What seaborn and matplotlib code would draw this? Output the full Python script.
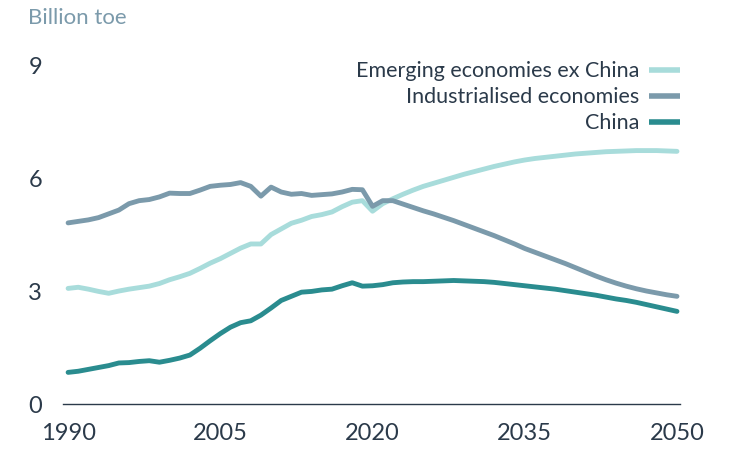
import numpy as np
import pandas as pd
import matplotlib
matplotlib.use("Agg")
import matplotlib.pyplot as plt
import seaborn as sns

# ---------------------------------------------------------------------------
# Data (billion toe)
# ---------------------------------------------------------------------------

years = list(range(1990, 2051))

emerging_ex_china = [
    3.07, 3.10, 3.05, 2.99, 2.94, 3.00, 3.05, 3.09, 3.13, 3.20,
    3.30, 3.38, 3.47, 3.60, 3.74, 3.86, 4.00, 4.14, 4.25, 4.25,
    4.50, 4.65, 4.80, 4.88, 4.98, 5.03, 5.10, 5.24, 5.36, 5.40,
    5.12, 5.32, 5.45, 5.57, 5.68, 5.78, 5.86, 5.94, 6.02, 6.10,
    6.17, 6.24, 6.31, 6.37, 6.43, 6.48, 6.52, 6.55, 6.58, 6.61,
    6.64, 6.66, 6.68, 6.70, 6.71, 6.72, 6.73, 6.73, 6.73, 6.72,
    6.71,
]

industrialised = [
    4.81, 4.85, 4.89, 4.95, 5.05, 5.15, 5.32, 5.40, 5.43, 5.50,
    5.60, 5.59, 5.59, 5.68, 5.78, 5.81, 5.83, 5.88, 5.78, 5.52,
    5.76, 5.63, 5.57, 5.59, 5.54, 5.56, 5.58, 5.63, 5.70, 5.69,
    5.25, 5.40, 5.40, 5.31, 5.22, 5.13, 5.05, 4.96, 4.87, 4.77,
    4.67, 4.57, 4.47, 4.36, 4.25, 4.13, 4.03, 3.93, 3.83, 3.73,
    3.62, 3.51, 3.40, 3.30, 3.21, 3.13, 3.06, 3.00, 2.95, 2.90,
    2.86,
]

china = [
    0.84, 0.87, 0.92, 0.97, 1.02, 1.09, 1.10, 1.13, 1.15, 1.11,
    1.16, 1.22, 1.30, 1.48, 1.68, 1.87, 2.04, 2.16, 2.21, 2.36,
    2.55, 2.75, 2.86, 2.97, 2.99, 3.03, 3.05, 3.14, 3.22, 3.13,
    3.14, 3.17, 3.22, 3.24, 3.25, 3.25, 3.26, 3.27, 3.28, 3.27,
    3.26, 3.25, 3.23, 3.20, 3.17, 3.14, 3.11, 3.08, 3.05, 3.01,
    2.97, 2.93, 2.89, 2.84, 2.79, 2.75, 2.70, 2.64, 2.58, 2.52,
    2.46,
]

series_names = ["Emerging economies ex China", "Industrialised economies", "China"]
series_colors = ["#a8dcdb", "#7b9aab", "#2a8c8f"]

y_ticks = [0, 3, 6, 9]
x_ticks = [1990, 2005, 2020, 2035, 2050]

TEXT = "#2b3a4a"

# ---------------------------------------------------------------------------
# Plot
# ---------------------------------------------------------------------------

sns.set_theme(style="white")
plt.rcParams["font.family"] = ["Lato", "DejaVu Sans"]

df = pd.concat([
    pd.DataFrame({"year": years, "value": vals, "series": name})
    for name, vals in zip(series_names, [emerging_ex_china, industrialised, china])
])

fig = plt.figure(figsize=(7.32, 4.49), dpi=100)
ax = fig.add_axes([0.0861, 0.1002, 0.929 - 0.0861, 0.855 - 0.1002])

sns.lineplot(
    data=df, x="year", y="value", hue="series",
    hue_order=series_names, palette=series_colors,
    linewidth=3.5, ax=ax, solid_capstyle="round",
)

ax.set_xlim(1989.5, 2050.3)
ax.set_ylim(0, 9)
ax.set_xticks(x_ticks)
ax.set_yticks(y_ticks)
ax.set_xlabel("")
ax.set_ylabel("")

for side in ["top", "right", "left"]:
    ax.spines[side].set_visible(False)
ax.spines["bottom"].set_color(TEXT)
ax.spines["bottom"].set_linewidth(1.0)

ax.tick_params(axis="both", length=0, labelsize=17, colors=TEXT)
ax.tick_params(axis="y", pad=15)
ax.tick_params(axis="x", pad=14)

fig.text(0.038, 0.96, "Billion toe", fontsize=16, color="#7b9aab",
         ha="left", va="center")

leg = ax.legend(
    loc="upper right", bbox_to_anchor=(0.929, 0.864),
    bbox_transform=fig.transFigure, frameon=False,
    markerfirst=False, fontsize=15.5, handlelength=1.45,
    handletextpad=0.45, labelspacing=0.28, borderaxespad=0,
    borderpad=0,
)
for txt in leg.get_texts():
    txt.set_color(TEXT)
for line in leg.get_lines():
    line.set_linewidth(4)
    line.set_solid_capstyle("butt")

fig.savefig("out.png", dpi=100)
